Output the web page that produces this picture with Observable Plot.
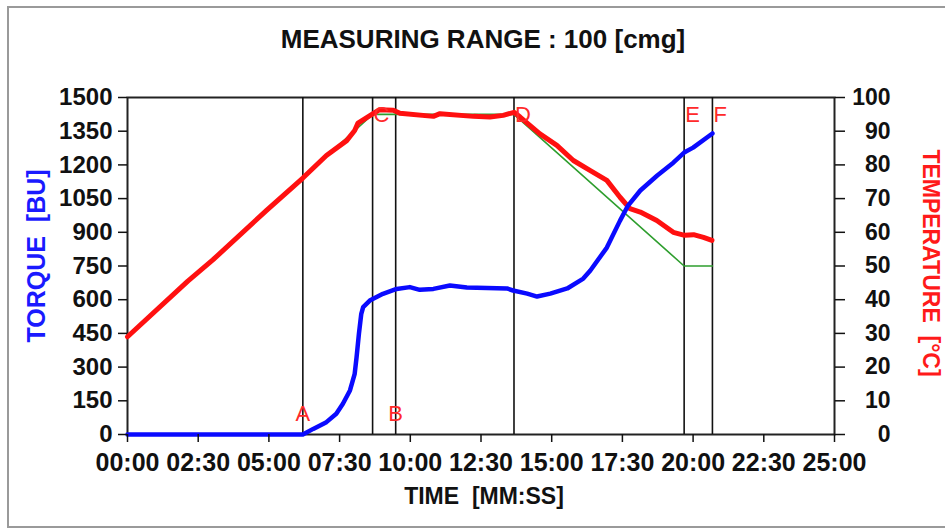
<!DOCTYPE html>
<html>
<head>
<meta charset="utf-8">
<script src="https://cdn.jsdelivr.net/npm/d3@7"></script>
<script src="https://cdn.jsdelivr.net/npm/@observablehq/plot@0.6"></script>
<style>
  html, body { margin: 0; padding: 0; background: #fff; }
  #wrap { position: relative; width: 945px; height: 529px; overflow: hidden; font-family: "Liberation Sans", Arial, sans-serif; }
  #border { position: absolute; left: 7px; top: 6px; width: 960px; height: 522px; border: 2px solid #9a9a9a; box-sizing: border-box; }
  #title { position: relative; box-sizing: border-box; height: 60px; padding-top: 26px; padding-left: 21px; text-align: center; font-weight: bold; font-size: 26px; line-height: 26px; color: #111; }
  #chart { position: relative; }
</style>
</head>
<body>
<div id="wrap">
  <div id="border"></div>
  <div id="title">MEASURING RANGE : 100 [cmg]</div>
  <div id="chart"></div>
</div>
<script>
// ---- data (time in seconds) ----
const torqueTime = [0, 372, 394, 422, 443, 457, 472, 482, 486, 491, 496, 500, 514, 542, 571, 599, 620, 649, 684, 720, 805, 818, 848, 869, 897, 933, 967, 982, 1017, 1045, 1062, 1088, 1124, 1158, 1181, 1200, 1241];
const torqueBU   = [0, 0,   25,  55,  92,  137, 196, 270, 344, 448, 537, 567, 596, 626, 648, 656, 644, 648, 663, 654, 650, 641, 627, 614, 627, 650, 694, 730, 832, 952, 1019, 1086, 1153, 1210, 1255, 1277, 1340];

const tempTime = [0, 128, 181, 295, 372, 422, 465, 482, 489, 521, 535, 564, 578, 649, 663, 734, 769, 797, 820, 833, 875, 911, 946, 982, 1017, 1045, 1066, 1088, 1123, 1158, 1182, 1201, 1222, 1240];
const tempC    = [29, 45.5, 51.8, 66.5, 76.1, 82.8, 87.2, 90.2, 92.4, 95.2, 96.4, 96.2, 95.3, 94.4, 95.2, 94.4, 94.2, 94.7, 95.6, 94.2, 89.2, 85.8, 81.3, 78.3, 75.4, 70.4, 67.0, 66.0, 63.5, 60.0, 59.1, 59.3, 58.5, 57.6];

const setTime = [0, 520, 820, 1181, 1241];
const setTempC = [29, 95, 95, 50, 50];

const markerLabels = ["A", "B", "C", "D", "E", "F"];
const markerTimes  = [372, 569, 520, 820, 1181, 1241];

const timeTicks   = [0, 150, 300, 450, 600, 750, 900, 1050, 1200, 1350, 1500];
const torqueTicks = [0, 150, 300, 450, 600, 750, 900, 1050, 1200, 1350, 1500];
const tempTicks   = [0, 10, 20, 30, 40, 50, 60, 70, 80, 90, 100];

// ---- tables ----
const BU_PER_C = 15; // 100 °C on the right axis == 1500 BU on the left axis
const torque = torqueTime.map((t, i) => ({t, v: torqueBU[i]}));
const temp = tempTime.map((t, i) => ({t, v: tempC[i]}));
const setp = setTime.map((t, i) => ({t, v: setTempC[i]}));
const markers = markerLabels.map((label, i) => ({label, t: markerTimes[i]}));

const fmtTime = d => String(Math.floor(d / 60)).padStart(2, "0") + ":" + String(d % 60).padStart(2, "0");

const chart = Plot.plot({
  width: 945,
  height: 469,
  marginLeft: 127,
  marginRight: 111,
  marginTop: 37,
  marginBottom: 95,
  style: {fontFamily: '"Liberation Sans", Arial, sans-serif', fontSize: "24px", fontWeight: "bold", color: "#111", background: "transparent", overflow: "visible"},
  x: {domain: [0, 1500]},
  y: {domain: [0, 1500]},
  marks: [
    Plot.frame({stroke: "#222", strokeWidth: 2}),
    Plot.ruleX(markers, {x: "t", y1: 0, y2: 1500, stroke: "#111", strokeWidth: 1.6}),
    Plot.line(setp, {x: "t", y: d => d.v * BU_PER_C, stroke: "#2e9e2e", strokeWidth: 1.6}),
    Plot.line(temp, {x: "t", y: d => d.v * BU_PER_C, stroke: "#ff1010", strokeWidth: 5, strokeLinejoin: "round", strokeLinecap: "round"}),
    Plot.line(torque, {x: "t", y: "v", stroke: "#0a0aff", strokeWidth: 4.5, strokeLinejoin: "round", strokeLinecap: "round"}),
    Plot.text(markers.filter(d => d.label === "A" || d.label === "B"), {x: "t", text: "label", frameAnchor: "bottom", lineAnchor: "bottom", dy: -14, fill: "#ff2a2a", fontSize: 22, fontWeight: "normal", textAnchor: "middle"}),
    Plot.text(markers.filter(d => d.label !== "A" && d.label !== "B"), {x: "t", text: "label", frameAnchor: "top", lineAnchor: "top", dy: 9, dx: 1, fill: "#ff2a2a", fontSize: 22, fontWeight: "normal", textAnchor: "start"}),
    Plot.axisX({ticks: timeTicks, tickFormat: fmtTime, tickSize: 8, tickPadding: 11, fontSize: 25, label: null, strokeWidth: 1.5}),
    Plot.axisY({anchor: "left", ticks: torqueTicks, tickFormat: d => String(d), tickSize: 9, tickPadding: 6, fontSize: 24, label: null, strokeWidth: 1.5}),
    Plot.axisY({anchor: "right", ticks: tempTicks.map(c => c * BU_PER_C), tickFormat: d => String(d / BU_PER_C), tickSize: 10, tickPadding: 46, textAnchor: "end", fontSize: 23, label: null, strokeWidth: 1.5}),
    Plot.text(["TORQUE\u00a0 [BU]"], {frameAnchor: "left", dx: -91, dy: -10, rotate: -90, textAnchor: "middle", fill: "#1a1aff", fontSize: 25, fontWeight: "bold"}),
    Plot.text(["TEMPERATURE\u00a0 [°C]"], {frameAnchor: "right", dx: 96, dy: -3, rotate: 90, textAnchor: "middle", fill: "#ff1a1a", fontSize: 23, fontWeight: "bold"}),
    Plot.text(["TIME\u00a0 [MM:SS]"], {frameAnchor: "bottom", dy: 69, dx: 3, textAnchor: "middle", fill: "#111", fontSize: 23, fontWeight: "bold"})
  ]
});
document.getElementById("chart").appendChild(chart);
</script>
</body>
</html>
